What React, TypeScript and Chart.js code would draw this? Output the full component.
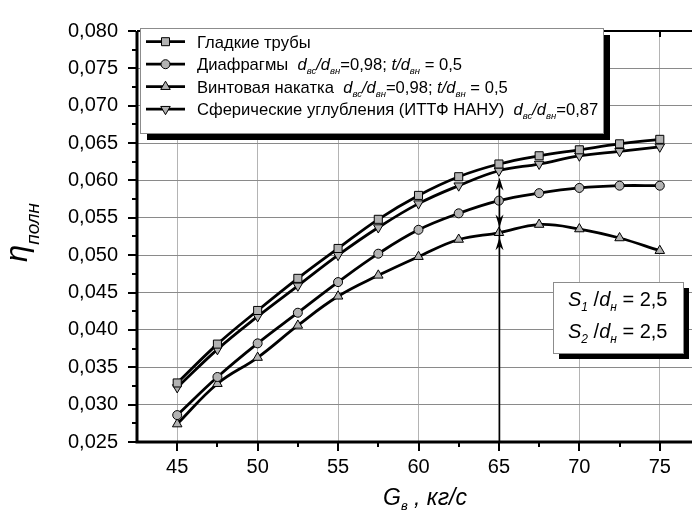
import { useEffect, useRef } from "react";
import { Chart, registerables } from "chart.js";
Chart.register(...registerables);

const G = [45, 47.5, 50, 52.5, 55, 57.5, 60, 62.5, 65, 67.5, 70, 72.5, 75];
const SMOOTH = [0.0329, 0.0381, 0.0426, 0.0469, 0.0509, 0.0548, 0.058, 0.0605, 0.0622, 0.0633, 0.0641, 0.0649, 0.0655];
const DIAPHRAGM = [0.0286, 0.0337, 0.0382, 0.0423, 0.0464, 0.0502, 0.0534, 0.0556, 0.0573, 0.0583, 0.059, 0.0593, 0.0593];
const SCREW = [0.0274, 0.0328, 0.0363, 0.0406, 0.0445, 0.0473, 0.0498, 0.0521, 0.053, 0.0541, 0.0535, 0.0523, 0.0506];
const SPHERICAL = [0.0323, 0.0374, 0.0418, 0.0459, 0.05, 0.0537, 0.0569, 0.0593, 0.0613, 0.0622, 0.0633, 0.0639, 0.0645];

const X_TICKS = [45, 50, 55, 60, 65, 70, 75];
const Y_TICKS = [0.025, 0.03, 0.035, 0.04, 0.045, 0.05, 0.055, 0.06, 0.065, 0.07, 0.075, 0.08];

const ARROW_X = 65;
const ARROW_TOP = 0.0604;
const ARROW_MID_DOWN = 0.0537;
const ARROW_LOW_UP = 0.0524;

const FONT = '"Liberation Sans", Arial, sans-serif';
const MARK_FILL = "#b2b2b2";

type Seg = { t: string; it?: boolean; sub?: boolean };

const LEGEND: { style: string; segs: Seg[] }[] = [
  { style: "rect", segs: [{ t: "Гладкие трубы" }] },
  {
    style: "circle",
    segs: [
      { t: "Диафрагмы  " }, { t: "d", it: true }, { t: "вс", it: true, sub: true }, { t: "/d", it: true },
      { t: "вн", it: true, sub: true }, { t: "=0,98; " }, { t: "t/d", it: true }, { t: "вн", it: true, sub: true }, { t: " = 0,5" },
    ],
  },
  {
    style: "triangle",
    segs: [
      { t: "Винтовая накатка  " }, { t: "d", it: true }, { t: "вс", it: true, sub: true }, { t: "/d", it: true },
      { t: "вн", it: true, sub: true }, { t: "=0,98; " }, { t: "t/d", it: true }, { t: "вн", it: true, sub: true }, { t: " = 0,5" },
    ],
  },
  {
    style: "invtriangle",
    segs: [
      { t: "Сферические углубления (ИТТФ НАНУ)  " }, { t: "d", it: true }, { t: "вс", it: true, sub: true },
      { t: "/d", it: true }, { t: "вн", it: true, sub: true }, { t: "=0,87" },
    ],
  },
];

const S_LINES: Seg[][] = [
  [{ t: "S", it: true }, { t: "1", it: true, sub: true }, { t: " /" }, { t: "d", it: true }, { t: "н", it: true, sub: true }, { t: " = 2,5" }],
  [{ t: "S", it: true }, { t: "2", it: true, sub: true }, { t: " /" }, { t: "d", it: true }, { t: "н", it: true, sub: true }, { t: " = 2,5" }],
];

function drawRich(ctx: CanvasRenderingContext2D, x: number, y: number, segs: Seg[], size: number, subSize: number, subDy: number) {
  let cx = x;
  for (const s of segs) {
    const fs = s.sub ? subSize : size;
    ctx.font = `${s.it ? "italic " : ""}${fs}px ${FONT}`;
    ctx.fillText(s.t, cx, y + (s.sub ? subDy : 0));
    cx += ctx.measureText(s.t).width;
  }
  return cx;
}

function marker(ctx: CanvasRenderingContext2D, style: string, x: number, y: number) {
  ctx.beginPath();
  if (style === "rect") {
    ctx.rect(x - 4, y - 4, 8, 8);
  } else if (style === "circle") {
    ctx.arc(x, y, 4.5, 0, Math.PI * 2);
  } else if (style === "triangle") {
    const r = 5.5;
    ctx.moveTo(x, y - r);
    ctx.lineTo(x + r * 0.866, y + r / 2);
    ctx.lineTo(x - r * 0.866, y + r / 2);
    ctx.closePath();
  } else {
    const r = 5.5;
    ctx.moveTo(x, y + r);
    ctx.lineTo(x + r * 0.866, y - r / 2);
    ctx.lineTo(x - r * 0.866, y - r / 2);
    ctx.closePath();
  }
  ctx.fillStyle = MARK_FILL;
  ctx.fill();
  ctx.lineWidth = 1;
  ctx.strokeStyle = "#000";
  ctx.stroke();
}

function arrowHead(ctx: CanvasRenderingContext2D, x: number, tipY: number, dir: number) {
  const L = 13, W = 4, N = 9;
  ctx.beginPath();
  ctx.moveTo(x, tipY);
  ctx.lineTo(x - W, tipY - dir * L);
  ctx.lineTo(x, tipY - dir * N);
  ctx.lineTo(x + W, tipY - dir * L);
  ctx.closePath();
  ctx.fill();
}

const deco = {
  id: "deco",
  afterDatasetsDraw(chart: any) {
    const { ctx, chartArea: a, scales } = chart;
    const x = scales.x, y = scales.y;
    ctx.save();
    ctx.fillStyle = "#000";
    ctx.strokeStyle = "#000";

    // arrows at G = 65
    const ax = Math.round(x.getPixelForValue(ARROW_X)) + 0.5;
    ctx.lineWidth = 1.5;
    ctx.beginPath();
    ctx.moveTo(ax, a.bottom);
    ctx.lineTo(ax, y.getPixelForValue(ARROW_TOP) + 4);
    ctx.stroke();
    arrowHead(ctx, ax, y.getPixelForValue(ARROW_TOP), -1);
    arrowHead(ctx, ax, y.getPixelForValue(ARROW_MID_DOWN), 1);
    arrowHead(ctx, ax, y.getPixelForValue(ARROW_LOW_UP), -1);

    // axes lines
    ctx.lineWidth = 3;
    ctx.beginPath();
    ctx.moveTo(a.left, a.top);
    ctx.lineTo(a.left, a.bottom + 1.5);
    ctx.moveTo(a.left - 1.5, a.bottom);
    ctx.lineTo(a.right, a.bottom);
    ctx.stroke();
    ctx.lineWidth = 2;
    ctx.beginPath();
    ctx.moveTo(a.left, a.top);
    ctx.lineTo(a.right, a.top);
    ctx.stroke();

    // ticks
    ctx.lineWidth = 2;
    ctx.beginPath();
    for (let i = 0; i <= 12; i++) {
      const v = 45 + i * 2.5;
      const px = Math.round(x.getPixelForValue(v));
      const major = i % 2 === 0;
      ctx.moveTo(px, a.bottom + 1);
      ctx.lineTo(px, a.bottom + (major ? 9 : 5));
      if (major) {
        ctx.moveTo(px, a.top);
        ctx.lineTo(px, a.top + 6);
      }
    }
    for (let i = 0; i <= 22; i++) {
      const v = 0.025 + i * 0.0025;
      const py = Math.round(y.getPixelForValue(v));
      const major = i % 2 === 0;
      ctx.moveTo(a.left - 1, py);
      ctx.lineTo(a.left - (major ? 9 : 5), py);
    }
    ctx.stroke();

    // legend box
    const lx = 140, ly = 28, lw = 463, lh = 105;
    ctx.fillStyle = "#000";
    ctx.fillRect(lx + 7, ly + 7, lw, lh);
    ctx.fillStyle = "#fff";
    ctx.fillRect(lx, ly, lw, lh);
    ctx.strokeStyle = "#8c8c8c";
    ctx.lineWidth = 1;
    ctx.strokeRect(lx + 0.5, ly + 0.5, lw, lh);
    ctx.textBaseline = "alphabetic";
    ctx.textAlign = "left";
    LEGEND.forEach((row, i) => {
      const cy = 41.7 + i * 22.5;
      ctx.strokeStyle = "#000";
      ctx.lineWidth = 2.8;
      ctx.beginPath();
      ctx.moveTo(146, cy);
      ctx.lineTo(185, cy);
      ctx.stroke();
      marker(ctx, row.style, 165.5, cy);
      ctx.fillStyle = "#000";
      drawRich(ctx, 197, cy + 5.9, row.segs, 16.6, 9.5, 4);
    });

    // S box
    const sx = 553, sy = 282, sw = 130, sh = 71;
    ctx.fillStyle = "#000";
    ctx.fillRect(sx + 6, sy + 6, sw, sh);
    ctx.fillStyle = "#fff";
    ctx.fillRect(sx, sy, sw, sh);
    ctx.strokeStyle = "#8c8c8c";
    ctx.lineWidth = 1;
    ctx.strokeRect(sx + 0.5, sy + 0.5, sw, sh);
    ctx.fillStyle = "#000";
    drawRich(ctx, 568, 306, S_LINES[0], 20, 12, 5);
    drawRich(ctx, 568, 338, S_LINES[1], 20, 12, 5);

    // axis titles
    drawRich(ctx, 383, 505, [{ t: "G", it: true }, { t: "в", it: true, sub: true }, { t: " , кг/с", it: true }], 23, 13, 5);
    ctx.save();
    ctx.translate(27, 262);
    ctx.rotate(-Math.PI / 2);
    drawRich(ctx, 0, 0, [{ t: "η", it: true }, { t: "полн", it: true, sub: true }], 31, 19, 12);
    ctx.restore();

    ctx.restore();
  },
};

export default function App() {
  const ref = useRef<HTMLCanvasElement>(null);
  useEffect(() => {
    const mk = (data: number[], style: string, rot = 0, r = 5.5) => ({
      data: G.map((g, i) => ({ x: g, y: data[i] })),
      borderColor: "#000",
      borderWidth: 2.8,
      backgroundColor: MARK_FILL,
      pointStyle: style,
      pointRotation: rot,
      pointRadius: r,
      pointBorderWidth: 1,
      pointBorderColor: "#000",
      pointBackgroundColor: MARK_FILL,
      tension: 0.4,
      fill: false,
    });
    const chart = new Chart(ref.current!, {
      type: "line",
      data: {
        datasets: [
          mk(SMOOTH, "rect", 0, 5.7),
          mk(DIAPHRAGM, "circle", 0, 4.5),
          mk(SCREW, "triangle", 0, 5.5),
          mk(SPHERICAL, "triangle", 180, 5.5),
        ] as any,
      },
      options: {
        responsive: false,
        devicePixelRatio: 1,
        animation: false,
        layout: { padding: { top: 22, right: 10, left: 0, bottom: 0 } },
        plugins: { legend: { display: false }, tooltip: { enabled: false } },
        scales: {
          x: {
            type: "linear",
            min: 42.5,
            max: 77.5,
            afterBuildTicks: (s: any) => { s.ticks = X_TICKS.map((v) => ({ value: v })); },
            afterFit: (s: any) => { s.height = 70; },
            grid: { color: "#b4b4b4", drawTicks: false, lineWidth: 1 },
            border: { display: false },
            ticks: {
              color: "#000",
              font: { family: FONT, size: 20 },
              padding: 13,
              maxRotation: 0,
              autoSkip: false,
              callback: (v: any) => String(v),
            },
          },
          y: {
            type: "linear",
            min: 0.025,
            max: 0.08,
            afterBuildTicks: (s: any) => { s.ticks = Y_TICKS.map((v) => ({ value: v })); },
            afterFit: (s: any) => { s.width = 137; },
            grid: { color: "#8a8a8a", drawTicks: false, lineWidth: 1 },
            border: { display: false },
            ticks: {
              color: "#000",
              font: { family: FONT, size: 20 },
              padding: 19,
              autoSkip: false,
              callback: (v: any) => Number(v).toFixed(3).replace(".", ","),
            },
          },
        },
      },
      plugins: [deco],
    });
    return () => chart.destroy();
  }, []);
  return (
    <div style={{ position: "fixed", left: 0, top: 0, width: 692, height: 512, overflow: "hidden", background: "#fff" }}>
      <canvas ref={ref} width={710} height={512} style={{ width: 710, height: 512, display: "block" }} />
    </div>
  );
}
